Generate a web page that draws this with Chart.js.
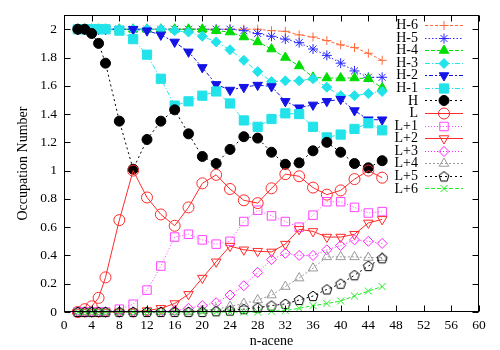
<!DOCTYPE html>
<html>
<head>
<meta charset="utf-8">
<script src="https://cdn.jsdelivr.net/npm/chart.js@4.4.0/dist/chart.umd.min.js"></script>
<style>
  html, body { margin: 0; padding: 0; background: #fff; }
</style>
</head>
<body>
<canvas id="occChart" width="500" height="350"></canvas>
<script>
// n-acene values (x)
var nAcene = [2, 3, 4, 5, 6, 8, 10, 12, 14, 16, 18, 20, 22, 24, 26, 28, 30, 32, 34, 36, 38, 40, 42, 44, 46];
var xTicks = [0, 4, 8, 12, 16, 20, 24, 28, 32, 36, 40, 44, 48, 52, 56, 60];
var yTicks = [0, 0.2, 0.4, 0.6, 0.8, 1, 1.2, 1.4, 1.6, 1.8, 2];

var seriesNames = ['H-6', 'H-5', 'H-4', 'H-3', 'H-2', 'H-1', 'H', 'L', 'L+1', 'L+2', 'L+3', 'L+4', 'L+5', 'L+6'];

var h6 = [2, 2, 2, 2, 2, 2, 2, 2, 2, 2, 2, 2, 2, 2, 2, 2, 1.99, 1.985, 1.96, 1.945, 1.92, 1.89, 1.87, 1.83, 1.78];
var h5 = [2, 2, 2, 2, 2, 2, 2, 2, 2, 2, 2, 2, 2, 2, 1.99, 1.97, 1.95, 1.93, 1.905, 1.86, 1.815, 1.76, 1.705, 1.66, 1.66];
var h4 = [2, 2, 2, 2, 2, 2, 2, 2, 2, 2, 2, 2, 1.99, 1.98, 1.945, 1.91, 1.86, 1.80, 1.74, 1.66, 1.655, 1.655, 1.655, 1.65, 1.585];
var h3 = [2, 2, 2, 2, 2, 2, 2, 2, 2, 1.99, 1.98, 1.95, 1.91, 1.855, 1.78, 1.70, 1.63, 1.635, 1.635, 1.65, 1.59, 1.53, 1.53, 1.545, 1.56];
var h2 = [2, 2, 2, 2, 2, 2, 2, 1.99, 1.96, 1.91, 1.84, 1.73, 1.61, 1.57, 1.59, 1.605, 1.595, 1.49, 1.445, 1.465, 1.49, 1.505, 1.425, 1.36, 1.36];
var h1 = [2, 2, 2, 2, 2, 1.99, 1.93, 1.82, 1.65, 1.46, 1.49, 1.53, 1.56, 1.475, 1.355, 1.31, 1.365, 1.405, 1.40, 1.31, 1.235, 1.255, 1.295, 1.335, 1.285];
var homo = [2, 2, 1.97, 1.90, 1.76, 1.35, 1.01, 1.22, 1.35, 1.43, 1.26, 1.10, 1.05, 1.15, 1.24, 1.23, 1.13, 1.045, 1.055, 1.14, 1.20, 1.13, 1.05, 1.02, 1.07];
var lumo = [0, 0.02, 0.04, 0.10, 0.245, 0.65, 1.0, 0.81, 0.69, 0.61, 0.74, 0.91, 0.97, 0.87, 0.79, 0.77, 0.875, 0.975, 0.96, 0.88, 0.83, 0.86, 0.94, 1.0, 0.95];
var l1 = [0, 0, 0, 0, 0, 0.02, 0.055, 0.155, 0.325, 0.53, 0.55, 0.51, 0.48, 0.50, 0.64, 0.72, 0.68, 0.64, 0.60, 0.685, 0.78, 0.78, 0.74, 0.70, 0.71];
var l2 = [0, 0, 0, 0, 0, 0, 0, 0.01, 0.026, 0.06, 0.125, 0.24, 0.355, 0.466, 0.44, 0.43, 0.425, 0.48, 0.585, 0.57, 0.53, 0.53, 0.55, 0.63, 0.655];
var l3 = [0, 0, 0, 0, 0, 0, 0, 0, 0, 0.01, 0.026, 0.045, 0.066, 0.12, 0.186, 0.28, 0.37, 0.415, 0.40, 0.40, 0.44, 0.47, 0.51, 0.50, 0.485];
var l4 = [0, 0, 0, 0, 0, 0, 0, 0, 0, 0, 0, 0.01, 0.02, 0.04, 0.06, 0.085, 0.12, 0.18, 0.24, 0.31, 0.39, 0.39, 0.39, 0.385, 0.385];
var l5 = [0, 0, 0, 0, 0, 0, 0, 0, 0, 0, 0, 0, 0.005, 0.01, 0.02, 0.03, 0.045, 0.057, 0.085, 0.113, 0.16, 0.20, 0.26, 0.325, 0.38];
var l6 = [0, 0, 0, 0, 0, 0, 0, 0, 0, 0, 0, 0, 0, 0, 0, 0, 0.005, 0.01, 0.026, 0.045, 0.06, 0.078, 0.113, 0.148, 0.18];

var seriesValues = [h6, h5, h4, h3, h2, h1, homo, lumo, l1, l2, l3, l4, l5, l6];

var xTitle = 'n-acene';
var yTitle = 'Occupation Number';

// open pentagon marker (no built-in style for it)
function pentagon(color) {
    var c = document.createElement('canvas');
    c.width = 14; c.height = 14;
    var g = c.getContext('2d');
    g.strokeStyle = color;
    g.lineWidth = 1;
    g.beginPath();
    for (var k = 0; k < 5; k++) {
        var a = -Math.PI / 2 + k * 2 * Math.PI / 5;
        var px = 7 + 5.2 * Math.cos(a), py = 7.4 + 5.2 * Math.sin(a);
        if (k === 0) g.moveTo(px, py); else g.lineTo(px, py);
    }
    g.closePath();
    g.stroke();
    return c;
}

// look of each series: colour, marker, size, rotation, filled, dash
var styles = [
    {color: '#ff6a3d', marker: 'cross', r: 4.5, rot: 0, fill: false, dash: [3, 2]},
    {color: '#2a2aff', marker: 'star', r: 5, rot: 0, fill: false, dash: [1.5, 2]},
    {color: '#00dd00', marker: 'triangle', r: 5.5, rot: 0, fill: true, dash: [4, 2]},
    {color: '#22e3ea', marker: 'rectRot', r: 5, rot: 0, fill: true, dash: [5, 2, 1, 2]},
    {color: '#1414e6', marker: 'triangle', r: 5.5, rot: 180, fill: true, dash: [2, 2, 4, 2]},
    {color: '#22e3ea', marker: 'rect', r: 6.5, rot: 0, fill: true, dash: [5, 2, 1, 2]},
    {color: '#000000', marker: 'circle', r: 5, rot: 0, fill: true, dash: [2, 3]},
    {color: '#ff2a2a', marker: 'circle', r: 5.5, rot: 0, fill: false, dash: []},
    {color: '#ff44ff', marker: 'rect', r: 6, rot: 0, fill: false, dash: [1, 2]},
    {color: '#ff2a2a', marker: 'triangle', r: 5.5, rot: 180, fill: false, dash: []},
    {color: '#ff22ff', marker: 'rectRot', r: 5, rot: 0, fill: false, dash: [1, 2]},
    {color: '#999999', marker: 'triangle', r: 5.5, rot: 0, fill: false, dash: [2, 2]},
    {color: '#000000', marker: pentagon('#000000'), r: 5, rot: 0, fill: false, dash: [2, 3]},
    {color: '#22ee22', marker: 'crossRot', r: 5, rot: 0, fill: false, dash: [4, 2]}
];

var datasets = seriesNames.map(function (name, i) {
    var s = styles[i];
    return {
        label: name,
        data: nAcene.map(function (x, j) { return {x: x, y: seriesValues[i][j]}; }),
        borderColor: s.color,
        backgroundColor: s.fill ? s.color : 'rgba(0,0,0,0)',
        borderWidth: 1,
        borderDash: s.dash,
        pointStyle: s.marker,
        pointRadius: s.r,
        pointRotation: s.rot,
        pointBorderColor: s.color,
        pointBackgroundColor: s.fill ? s.color : 'rgba(0,0,0,0)',
        pointBorderWidth: 1,
        tension: 0,
        clip: false,
        order: seriesNames.length - i
    };
});

var frame = {
    id: 'frame',
    afterDatasetsDraw: function (chart) {
        var ctx = chart.ctx, a = chart.chartArea;
        var xs = chart.scales.x, ys = chart.scales.y;
        var l = Math.round(a.left) + 0.5, r = Math.round(a.right) - 0.5;
        var t = Math.round(a.top) + 0.5, b = Math.round(a.bottom) - 0.5;
        ctx.save();
        ctx.strokeStyle = '#000';
        ctx.lineWidth = 1;
        ctx.setLineDash([]);
        ctx.beginPath();
        xs.ticks.forEach(function (tk) {
            var p = Math.round(xs.getPixelForValue(tk.value)) + 0.5;
            ctx.moveTo(p, b); ctx.lineTo(p, b - 6);
            ctx.moveTo(p, t); ctx.lineTo(p, t + 6);
        });
        ys.ticks.forEach(function (tk) {
            var p = Math.round(ys.getPixelForValue(tk.value)) + 0.5;
            ctx.moveTo(l, p); ctx.lineTo(l + 6, p);
            ctx.moveTo(r, p); ctx.lineTo(r - 6, p);
        });
        ctx.stroke();
        ctx.strokeRect(l, t, r - l, b - t);
        ctx.restore();
    },
    afterDraw: function (chart) {
        var ctx = chart.ctx, a = chart.chartArea;
        ctx.save();
        ctx.font = '14px "Liberation Serif"';
        ctx.fillStyle = '#000';
        ctx.textAlign = 'center';
        ctx.textBaseline = 'middle';
        // axis titles
        ctx.fillText(xTitle, (a.left + a.right) / 2, 341);
        ctx.save();
        ctx.translate(23.5, (a.top + a.bottom) / 2);
        ctx.rotate(-Math.PI / 2);
        ctx.fillText(yTitle, 0, 0);
        ctx.restore();
        // key, gnuplot style: text then sample
        ctx.textAlign = 'right';
        chart.data.datasets.forEach(function (ds, i) {
            var y = 25 + i * 12.57;
            ctx.fillStyle = '#000';
            ctx.fillText(ds.label, 418, y + 0.5);
            ctx.strokeStyle = ds.borderColor;
            ctx.lineWidth = 1;
            ctx.setLineDash(ds.borderDash);
            ctx.beginPath();
            ctx.moveTo(425, Math.round(y) + 0.5);
            ctx.lineTo(463, Math.round(y) + 0.5);
            ctx.stroke();
            ctx.setLineDash([]);
            ctx.fillStyle = ds.pointBackgroundColor;
            Chart.helpers.drawPoint(ctx, {
                pointStyle: ds.pointStyle,
                rotation: ds.pointRotation,
                radius: ds.pointRadius,
                borderWidth: 1
            }, 444, Math.round(y) + 0.5);
        });
        ctx.restore();
    }
};

Chart.defaults.font.family = '"Liberation Serif", serif';
Chart.defaults.font.size = 13.5;
Chart.defaults.color = '#000';

var occChart = new Chart(document.getElementById('occChart'), {
    type: 'line',
    data: {datasets: datasets},
    options: {
        responsive: false,
        devicePixelRatio: 1,
        animation: false,
        layout: {padding: {left: 0, right: 21, top: 15, bottom: 0}},
        plugins: {legend: {display: false}, tooltip: {enabled: false}},
        scales: {
            x: {
                type: 'linear',
                min: 0,
                max: 60,
                grid: {display: false, drawTicks: false},
                border: {display: false},
                afterBuildTicks: function (scale) {
                    scale.ticks = xTicks.map(function (v) { return {value: v}; });
                },
                afterFit: function (scale) { scale.height = 38; },
                ticks: {padding: 5, maxRotation: 0, autoSkip: false}
            },
            y: {
                type: 'linear',
                min: 0,
                max: 2.1,
                grid: {display: false, drawTicks: false},
                border: {display: false},
                afterBuildTicks: function (scale) {
                    scale.ticks = yTicks.map(function (v) { return {value: v}; });
                },
                afterFit: function (scale) { scale.width = 64; },
                ticks: {
                    padding: 7,
                    autoSkip: false,
                    callback: function (v) { return String(Math.round(v * 10) / 10); }
                }
            }
        }
    },
    plugins: [frame]
});
</script>
</body>
</html>
